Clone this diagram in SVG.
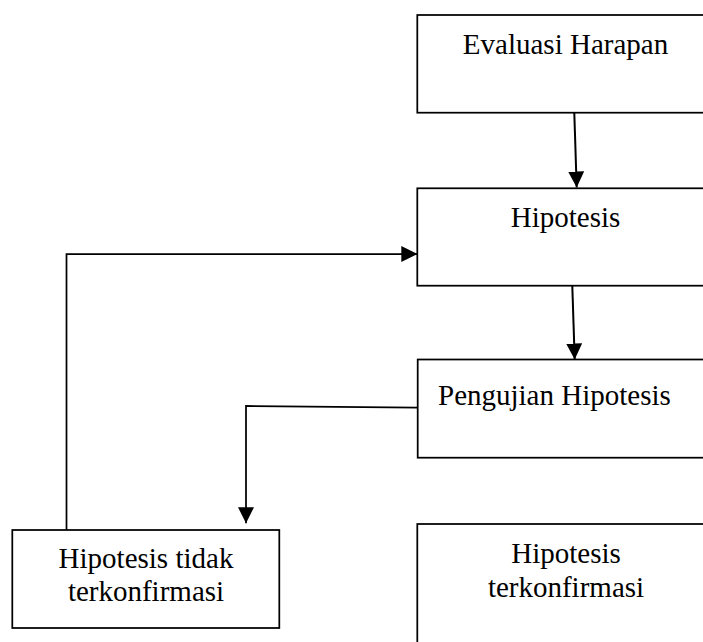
<svg xmlns="http://www.w3.org/2000/svg" width="703" height="642" viewBox="0 0 703 642">
<style>
.box{fill:#fff;stroke:#000;stroke-width:1.75}
.t{font-family:"Liberation Serif","Times New Roman",serif;font-size:29px;fill:#000}
.c{text-anchor:middle}
.ln{fill:none;stroke:#000;stroke-width:2}
.ln1{fill:none;stroke:#000;stroke-width:1.75}
</style>
<defs>
<marker id="ah" markerUnits="userSpaceOnUse" markerWidth="16" markerHeight="16" viewBox="0 0 16 16" refX="16" refY="8" orient="auto">
<path d="M0,0 L16,8 L0,16 Z" fill="#000"/>
</marker>
</defs>
<rect width="703" height="642" fill="#fff"/>
<g id="connectors">
<line class="ln" x1="574.3" y1="113" x2="576.7" y2="187.5" marker-end="url(#ah)"/>
<line class="ln" x1="572.3" y1="286" x2="574.7" y2="359.5" marker-end="url(#ah)"/>
<polyline class="ln1" points="66.5,530 66.5,254 417.3,254" marker-end="url(#ah)"/>
<polyline class="ln1" points="417.7,407.7 246,406 246,523.3" marker-end="url(#ah)"/>
</g>
<g id="n1">
<rect class="box" x="417.3" y="15" width="300" height="97.7"/>
<text class="t c" x="565.5" y="54">Evaluasi Harapan</text>
</g>
<g id="n2">
<rect class="box" x="417.3" y="188.3" width="300" height="97.4"/>
<text class="t c" x="565.5" y="226.7">Hipotesis</text>
</g>
<g id="n3">
<rect class="box" x="417.7" y="359.5" width="300" height="98.2"/>
<text class="t" x="438" y="405">Pengujian Hipotesis</text>
</g>
<g id="n4">
<rect class="box" x="12.3" y="530" width="267" height="98"/>
<text class="t c" x="146" y="568.3">Hipotesis tidak</text>
<text class="t c" x="146" y="600.5">terkonfirmasi</text>
</g>
<g id="n5">
<rect class="box" x="417.3" y="524" width="300" height="140"/>
<text class="t c" x="566" y="563.3">Hipotesis</text>
<text class="t c" x="566" y="596.7">terkonfirmasi</text>
</g>
</svg>
